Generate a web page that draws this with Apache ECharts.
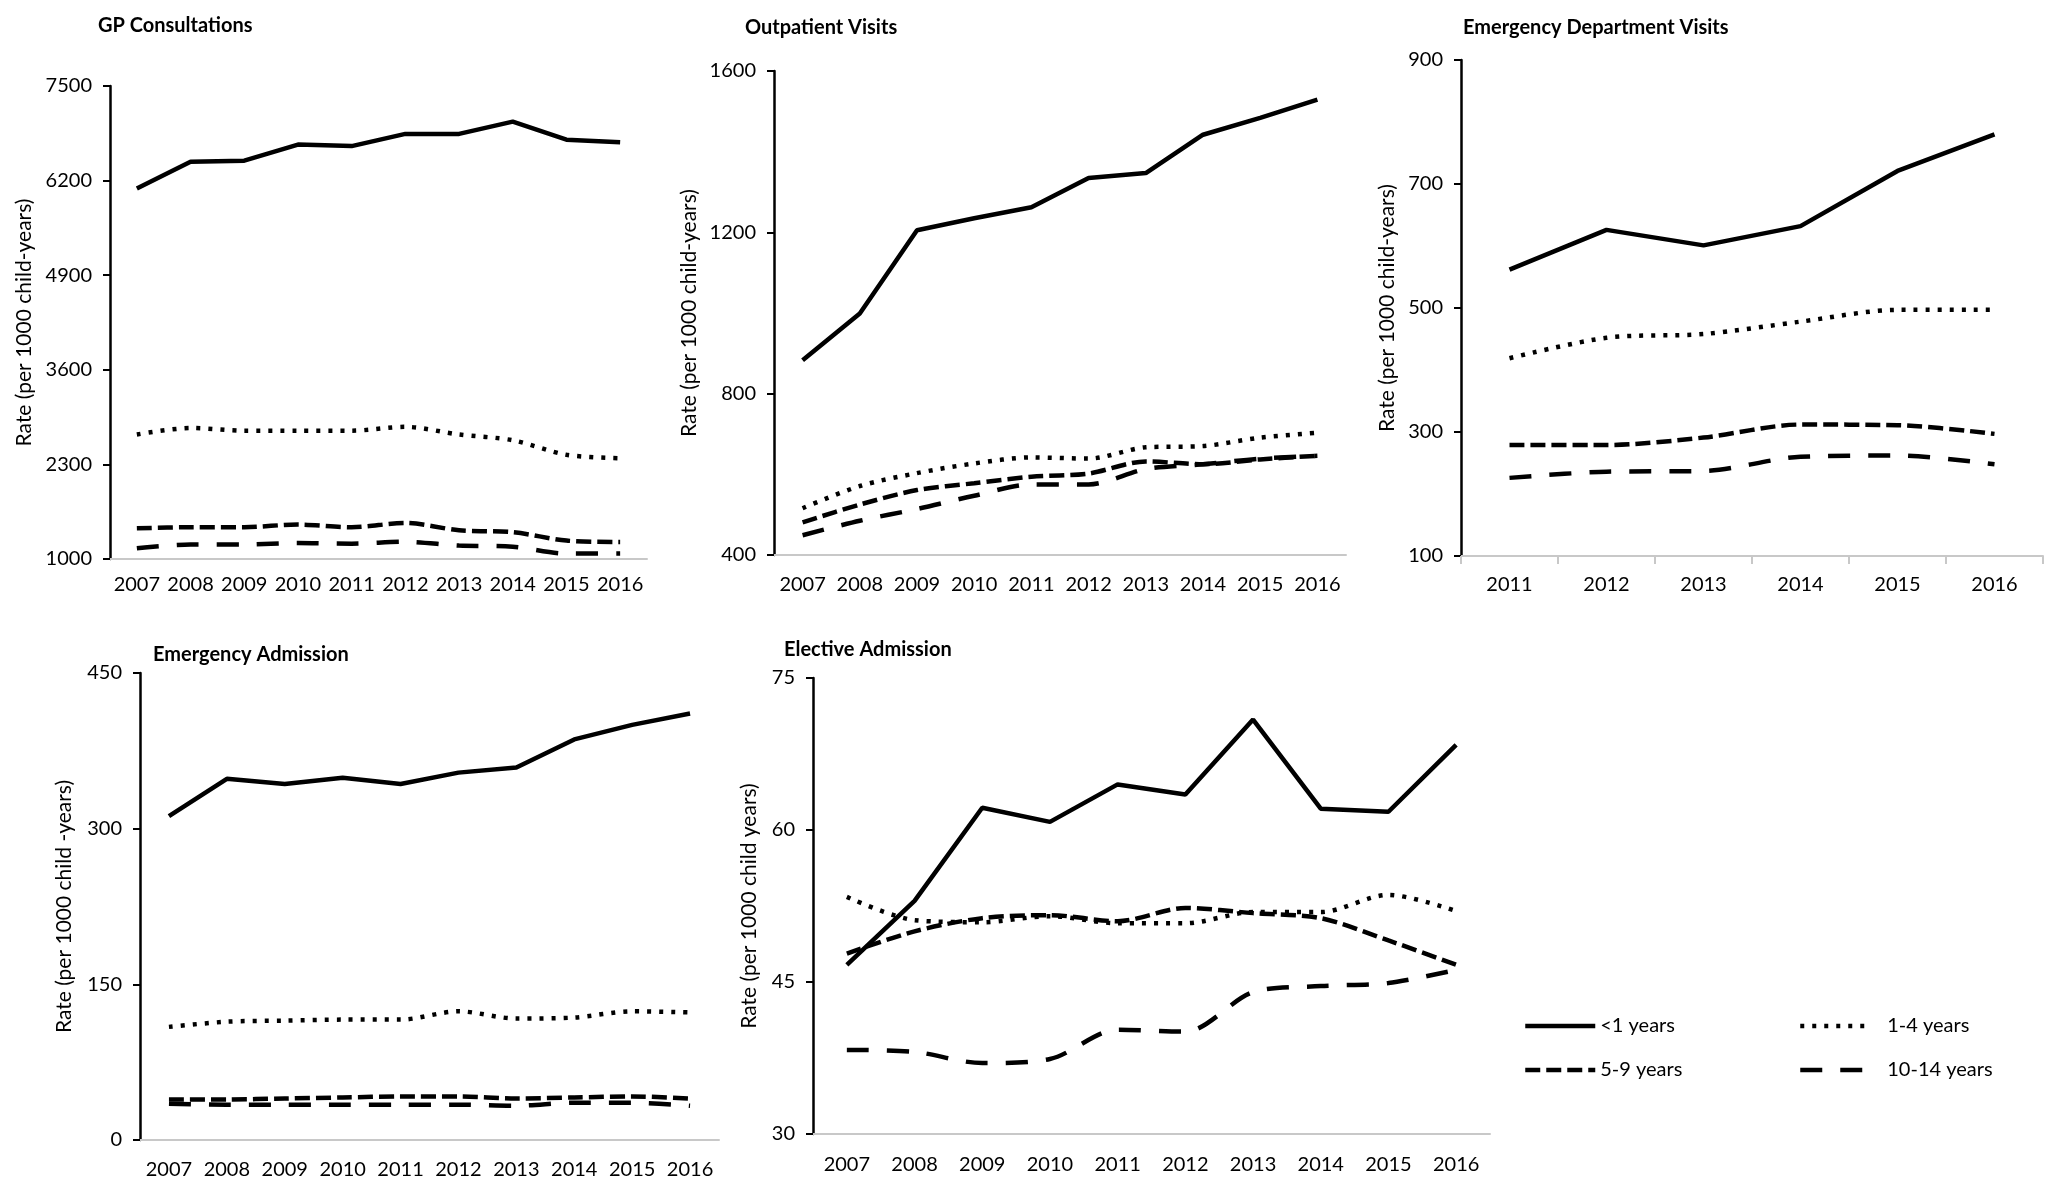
<!DOCTYPE html>
<html>
<head>
<meta charset="utf-8">
<title>Healthcare utilisation rates by age group</title>
<script src="https://cdn.jsdelivr.net/npm/echarts@6/dist/echarts.min.js"></script>
<style>
  html, body { margin: 0; padding: 0; background: #fff; }
  #chart { width: 2048px; height: 1188px; }
</style>
</head>
<body>
<div id="chart"></div>
<script>
// age groups (legend order)
const groups = ["<1 years", "1-4 years", "5-9 years", "10-14 years"]

const years = ["2007", "2008", "2009", "2010", "2011", "2012", "2013", "2014", "2015", "2016"]
const edYears = ["2011", "2012", "2013", "2014", "2015", "2016"]

// GP consultations
const gpUnder1 = [6090, 6458, 6474, 6695, 6674, 6842, 6842, 7010, 6763, 6726]
const gp1to4 = [2711, 2800, 2763, 2763, 2763, 2816, 2711, 2632, 2432, 2385]
const gp5to9 = [1421, 1437, 1437, 1474, 1437, 1495, 1395, 1369, 1253, 1232]
const gp10to14 = [1148, 1200, 1200, 1221, 1211, 1237, 1184, 1169, 1074, 1074]

// Outpatient visits
const opUnder1 = [883, 999, 1205, 1235, 1262, 1335, 1347, 1442, 1484, 1529]
const op1to4 = [516, 571, 603, 627, 642, 639, 667, 670, 691, 703]
const op5to9 = [481, 525, 561, 578, 594, 602, 632, 625, 637, 646]
const op10to14 = [449, 485, 514, 547, 575, 575, 613, 625, 639, 646]

// Emergency department visits
const edUnder1 = [562, 626, 601, 632, 721, 780]
const ed1to4 = [419, 452, 458, 478, 497, 497]
const ed5to9 = [279, 279, 291, 312, 311, 297]
const ed10to14 = [226, 236, 237, 260, 262, 248]

// Emergency admission
const eaUnder1 = [312, 348, 343, 349, 343, 354, 359, 386, 400, 411]
const ea1to4 = [109, 114, 115, 116, 116, 124, 117, 118, 124, 123]
const ea5to9 = [39, 39, 40, 41, 42, 42, 40, 41, 42, 40]
const ea10to14 = [35, 34, 34, 34, 34, 34, 33, 36, 36, 33]

// Elective admission
const elUnder1 = [46.7, 53.0, 62.2, 60.8, 64.5, 63.5, 70.9, 62.1, 61.8, 68.4]
const el1to4 = [53.4, 51.1, 50.9, 51.5, 50.8, 50.8, 51.9, 51.9, 53.6, 52.0]
const el5to9 = [47.8, 50.0, 51.3, 51.6, 51.0, 52.3, 51.8, 51.3, 49.1, 46.7]
const el10to14 = [38.3, 38.1, 37.0, 37.4, 40.3, 40.1, 44.0, 44.6, 44.9, 46.2]

const font = "Lato, 'Liberation Sans', sans-serif"

// dash pattern per age group
const lineTypes = ["solid", [4, 8], [15, 6], [22, 18]]

const panels = [
  {title: "GP Consultations", cats: years, data: [gpUnder1, gp1to4, gp5to9, gp10to14],
   min: 1000, max: 7500, interval: 1300, yName: "Rate (per 1000 child-years)",
   grid: {left: 110, top: 86, width: 537, height: 473}, titlePos: [98, 16], nameGap: 75, xMargin: 16, ticks: false},
  {title: "Outpatient Visits", cats: years, data: [opUnder1, op1to4, op5to9, op10to14],
   min: 400, max: 1600, interval: 400, yName: "Rate (per 1000 child-years)",
   grid: {left: 774, top: 71, width: 572, height: 484}, titlePos: [745, 18], nameGap: 74, xMargin: 20, ticks: false},
  {title: "Emergency Department Visits", cats: edYears, data: [edUnder1, ed1to4, ed5to9, ed10to14],
   min: 100, max: 900, interval: 200, yName: "Rate (per 1000 child-years)",
   grid: {left: 1461, top: 60, width: 582, height: 496}, titlePos: [1463, 18], nameGap: 63, xMargin: 19, ticks: true},
  {title: "Emergency Admission", cats: years, data: [eaUnder1, ea1to4, ea5to9, ea10to14],
   min: 0, max: 450, interval: 150, yName: "Rate (per 1000 child -years)",
   grid: {left: 140, top: 673, width: 579, height: 467}, titlePos: [153, 645], nameGap: 65, xMargin: 20, ticks: false},
  {title: "Elective Admission", cats: years, data: [elUnder1, el1to4, el5to9, el10to14],
   min: 30, max: 75, interval: 15, yName: "Rate (per 1000 child years)",
   grid: {left: 813, top: 678, width: 677, height: 456}, titlePos: [784, 640], nameGap: 53, xMargin: 21, ticks: false}
]

const legendBase = {
  orient: "vertical", top: 1011,
  itemWidth: 70, itemHeight: 22, itemGap: 24,
  itemStyle: {opacity: 0},
  lineStyle: {width: 4.5, color: "#000"}
}

const option = {
  backgroundColor: "#fff",
  animation: false,
  textStyle: {fontFamily: font, color: "#000"},
  title: panels.map(p => ({
    text: p.title, left: p.titlePos[0], top: p.titlePos[1], padding: 0,
    textStyle: {fontFamily: font, fontSize: 20, fontWeight: "bold", color: "#000"}
  })),
  grid: panels.map(p => Object.assign({outerBoundsMode: "none", containLabel: false}, p.grid)),
  xAxis: panels.map((p, i) => ({
    type: "category", gridIndex: i, data: p.cats, boundaryGap: true,
    axisLine: {lineStyle: {color: "#c8c8c8", width: 2}},
    axisTick: {show: p.ticks, length: 8, lineStyle: {color: "#c8c8c8", width: 2}},
    axisLabel: {interval: 0, fontFamily: font, fontSize: 20, color: "#000", margin: p.xMargin}
  })),
  yAxis: panels.map((p, i) => ({
    type: "value", gridIndex: i, min: p.min, max: p.max, interval: p.interval,
    name: p.yName, nameLocation: "middle", nameGap: p.nameGap, nameRotate: 90,
    nameTextStyle: {fontFamily: font, fontSize: 21, color: "#000"},
    splitLine: {show: false},
    axisLine: {show: true, lineStyle: {color: "#000", width: 2.5}},
    axisTick: {show: true, length: 7, lineStyle: {color: "#000", width: 2}},
    axisLabel: {fontFamily: font, fontSize: 20, color: "#000", margin: 18,
      formatter: v => String(v)}
  })),
  legend: [
    Object.assign({}, legendBase, {data: [groups[0], groups[2]], left: 1518,
      textStyle: {fontFamily: font, fontSize: 20, color: "#000"}}),
    Object.assign({}, legendBase, {data: [groups[1], groups[3]], left: 1793,
      textStyle: {fontFamily: font, fontSize: 20, color: "#000", padding: [0, 0, 0, 12]}})
  ],
  series: []
}

panels.forEach((p, i) => {
  p.data.forEach((vals, g) => {
    option.series.push({
      type: "line", name: groups[g], xAxisIndex: i, yAxisIndex: i,
      data: vals, symbol: "none", smooth: g === 0 ? false : 0.3,
      color: "#000",
      lineStyle: {color: "#000", width: 4.5, type: lineTypes[g], cap: "butt"}
    })
  })
})

const chart = echarts.init(document.getElementById("chart"))
chart.setOption(option)
window.addEventListener("resize", () => chart.resize())
</script>
</body>
</html>
